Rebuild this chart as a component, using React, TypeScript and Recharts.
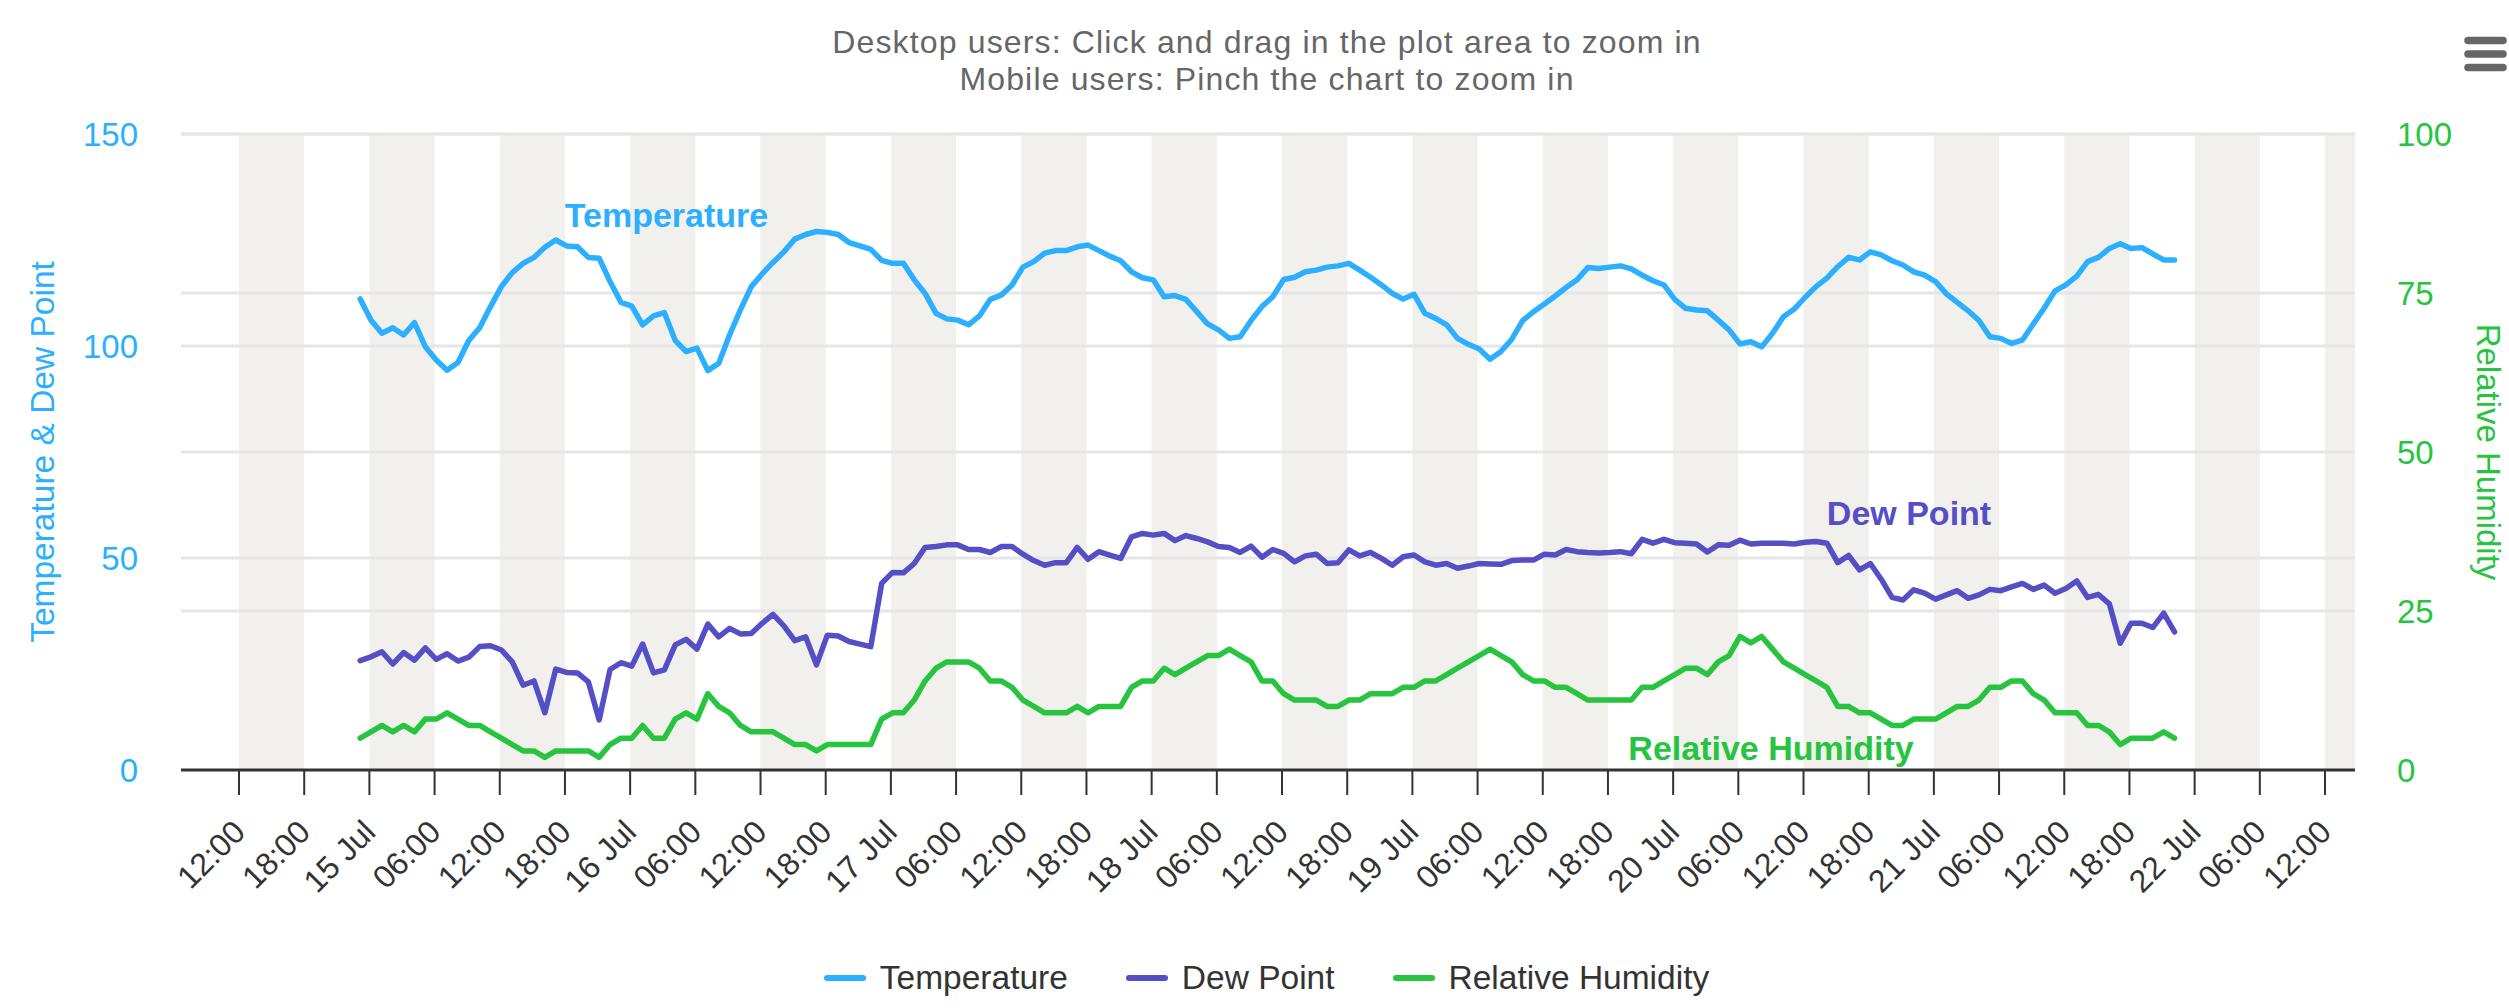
import { LineChart, Line, XAxis, YAxis, ReferenceArea, ReferenceLine } from 'recharts';

const FONT = '"Liberation Sans", Arial, Helvetica, sans-serif';

const TEMP_COLOR = '#2caffe';
const DEW_COLOR = '#544fc5';
const RH_COLOR = '#26c43f';
const BAND_COLOR = '#f2f0ec';
const GRID_COLOR = '#e6e6e6';

// hours counted from 14 Jul 00:00
const X_MIN = 6.66;
const X_MAX = 206.76;
const START_HOUR = 23.15;
const X_TICKS = [
  12, 18, 24, 30, 36, 42, 48, 54, 60, 66, 72, 78, 84, 90, 96, 102, 108,
  114, 120, 126, 132, 138, 144, 150, 156, 162, 168, 174, 180, 186, 192, 198, 204,
];
const LEFT_TICKS = [0, 50, 100, 150];
const RIGHT_TICKS = [0, 25, 50, 75, 100];

const TEMP = [
  111.1, 106.1, 103.0, 104.3, 102.6, 105.5, 99.8, 96.7, 94.3, 96.1,
  101.3, 104.3, 109.3, 114.0, 117.3, 119.5, 120.9, 123.3, 125.0, 123.6,
  123.4, 120.9, 120.7, 115.2, 110.3, 109.4, 105.0, 107.1, 107.9, 101.3,
  98.7, 99.5, 94.2, 95.9, 102.6, 108.5, 114.0, 117.0, 119.7, 122.2,
  125.2, 126.3, 127.0, 126.8, 126.3, 124.4, 123.6, 122.8, 120.2, 119.5,
  119.5, 115.6, 112.4, 107.7, 106.4, 106.1, 105.0, 107.1, 111.0, 112.0,
  114.4, 118.6, 119.9, 121.9, 122.5, 122.5, 123.4, 123.8, 122.5, 121.2,
  120.1, 117.5, 116.1, 115.6, 111.6, 111.9, 111.0, 108.1, 105.2, 103.8,
  101.8, 102.2, 106.0, 109.3, 111.6, 115.7, 116.2, 117.5, 117.9, 118.6,
  118.9, 119.5, 117.9, 116.2, 114.4, 112.4, 111.1, 112.2, 107.7, 106.5,
  105.0, 101.8, 100.4, 99.3, 96.9, 98.7, 101.6, 106.0, 108.1, 109.9,
  111.8, 113.8, 115.6, 118.5, 118.3, 118.6, 118.9, 118.2, 116.7, 115.4,
  114.4, 111.0, 108.9, 108.5, 108.3, 106.1, 103.8, 100.5, 101.0, 99.8,
  103.0, 106.9, 108.7, 111.5, 114.0, 116.0, 118.7, 120.9, 120.3, 122.2,
  121.5, 120.1, 119.1, 117.5, 116.7, 115.2, 112.3, 110.3, 108.3, 106.0,
  102.2, 101.8, 100.6, 101.4, 105.2, 108.9, 113.0, 114.4, 116.5, 119.9,
  120.9, 123.0, 124.1, 123.0, 123.2, 121.7, 120.3, 120.3,
];

const DEW = [
  25.8, 26.7, 27.9, 25.0, 27.7, 25.9, 28.8, 26.1, 27.4, 25.7,
  26.6, 29.1, 29.3, 28.3, 25.5, 20.0, 21.0, 13.5, 23.8, 23.0,
  22.9, 20.8, 11.8, 23.7, 25.3, 24.5, 29.7, 22.9, 23.6, 29.5,
  30.8, 28.5, 34.4, 31.4, 33.4, 32.1, 32.2, 34.6, 36.7, 34.0,
  30.5, 31.4, 24.8, 31.8, 31.6, 30.3, 29.7, 29.1, 44.0, 46.6,
  46.5, 48.7, 52.5, 52.7, 53.1, 53.1, 52.0, 52.0, 51.3, 52.7,
  52.7, 50.9, 49.4, 48.3, 48.9, 48.9, 52.5, 49.7, 51.5, 50.7,
  49.9, 55.0, 55.8, 55.4, 55.8, 54.1, 55.3, 54.6, 53.8, 52.7,
  52.5, 51.3, 52.8, 50.2, 52.0, 51.1, 49.1, 50.5, 50.9, 48.7,
  48.9, 51.9, 50.5, 51.3, 49.9, 48.3, 50.3, 50.7, 49.1, 48.3,
  48.7, 47.6, 48.1, 48.7, 48.6, 48.5, 49.4, 49.5, 49.5, 50.9,
  50.7, 52.0, 51.5, 51.3, 51.2, 51.3, 51.5, 51.0, 54.4, 53.5,
  54.4, 53.6, 53.5, 53.3, 51.4, 53.1, 53.0, 54.2, 53.3, 53.5,
  53.5, 53.5, 53.3, 53.7, 53.9, 53.5, 48.9, 50.6, 47.2, 48.7,
  45.0, 40.7, 40.1, 42.5, 41.7, 40.3, 41.3, 42.3, 40.5, 41.3,
  42.6, 42.3, 43.2, 44.0, 42.6, 43.6, 41.7, 42.8, 44.6, 40.7,
  41.4, 39.2, 29.9, 34.6, 34.6, 33.6, 37.0, 32.6,
];

const RH = [
  5, 6, 7, 6, 7, 6, 8, 8, 9, 8,
  7, 7, 6, 5, 4, 3, 3, 2, 3, 3,
  3, 3, 2, 4, 5, 5, 7, 5, 5, 8,
  9, 8, 12, 10, 9, 7, 6, 6, 6, 5,
  4, 4, 3, 4, 4, 4, 4, 4, 8, 9,
  9, 11, 14, 16, 17, 17, 17, 16, 14, 14,
  13, 11, 10, 9, 9, 9, 10, 9, 10, 10,
  10, 13, 14, 14, 16, 15, 16, 17, 18, 18,
  19, 18, 17, 14, 14, 12, 11, 11, 11, 10,
  10, 11, 11, 12, 12, 12, 13, 13, 14, 14,
  15, 16, 17, 18, 19, 18, 17, 15, 14, 14,
  13, 13, 12, 11, 11, 11, 11, 11, 13, 13,
  14, 15, 16, 16, 15, 17, 18, 21, 20, 21,
  19, 17, 16, 15, 14, 13, 10, 10, 9, 9,
  8, 7, 7, 8, 8, 8, 9, 10, 10, 11,
  13, 13, 14, 14, 12, 11, 9, 9, 9, 7,
  7, 6, 4, 5, 5, 5, 6, 5,
];

const SERIES = [
  { key: 'temp', name: 'Temperature', color: TEMP_COLOR, axis: 'left' },
  { key: 'dew', name: 'Dew Point', color: DEW_COLOR, axis: 'left' },
  { key: 'rh', name: 'Relative Humidity', color: RH_COLOR, axis: 'right' },
];

const rows = TEMP.map((t, i) => ({ h: START_HOUR + i, temp: t, dew: DEW[i], rh: RH[i] }));

const bands: [number, number][] = [];
for (let s = X_TICKS[0]; s < X_MAX; s += 12) bands.push([s, Math.min(s + 6, X_MAX)]);

function fmtHour(v: number) {
  const hh = v % 24;
  if (hh === 0) return `${14 + v / 24} Jul`;
  return `${hh < 10 ? '0' : ''}${hh}:00`;
}

function XTick(props: any) {
  const { x, y, payload } = props;
  const tx = x + 8;
  const ty = y + 39;
  return (
    <text
      x={tx}
      y={ty}
      transform={`rotate(-45 ${tx} ${ty})`}
      textAnchor="end"
      fill="#333333"
      fontSize={32}
      fontFamily={FONT}
    >
      {fmtHour(payload.value)}
    </text>
  );
}

export default function App() {
  return (
    <div style={{ position: 'absolute', left: 0, top: 0, width: 2509, height: 1008, background: '#fff', fontFamily: FONT }}>
      <LineChart width={2509} height={1008} data={rows} margin={{ top: 134, right: 0, bottom: 0, left: 0 }}>
        {bands.map(([a, b]) => (
          <ReferenceArea
            key={a}
            yAxisId="left"
            x1={a}
            x2={b}
            y1={0}
            y2={150}
            fill={BAND_COLOR}
            fillOpacity={1}
            stroke="none"
          />
        ))}
        {LEFT_TICKS.filter(v => v > 0).map(v => (
          <ReferenceLine key={'l' + v} yAxisId="left" y={v} stroke={GRID_COLOR} strokeWidth={3} />
        ))}
        {RIGHT_TICKS.filter(v => v > 0).map(v => (
          <ReferenceLine key={'r' + v} yAxisId="right" y={v} stroke={GRID_COLOR} strokeWidth={3} />
        ))}
        <XAxis
          dataKey="h"
          type="number"
          domain={[X_MIN, X_MAX]}
          allowDataOverflow
          ticks={X_TICKS}
          interval={0}
          height={238}
          tickSize={25}
          tickMargin={0}
          tickLine={{ stroke: '#333333', strokeWidth: 2 }}
          axisLine={{ stroke: '#333333', strokeWidth: 3 }}
          tick={<XTick />}
        />
        <YAxis
          yAxisId="left"
          domain={[0, 150]}
          ticks={LEFT_TICKS}
          allowDataOverflow
          width={181}
          axisLine={false}
          tickLine={false}
          tickSize={0}
          tickMargin={43}
          tick={{ fill: TEMP_COLOR, fontSize: 33, fontFamily: FONT }}
        />
        <YAxis
          yAxisId="right"
          orientation="right"
          domain={[0, 100]}
          ticks={RIGHT_TICKS}
          allowDataOverflow
          width={154}
          axisLine={false}
          tickLine={false}
          tickSize={0}
          tickMargin={42}
          tick={{ fill: RH_COLOR, fontSize: 33, fontFamily: FONT, textAnchor: 'start' }}
        />
        {SERIES.map(s => (
          <Line
            key={s.key}
            yAxisId={s.axis}
            type="linear"
            dataKey={s.key}
            name={s.name}
            stroke={s.color}
            strokeWidth={5.5}
            strokeLinejoin="round"
            strokeLinecap="round"
            dot={false}
            activeDot={false}
            isAnimationActive={false}
          />
        ))}
      </LineChart>

      <svg
        width={2509}
        height={1008}
        style={{ position: 'absolute', left: 0, top: 0, pointerEvents: 'none' }}
        fontFamily={FONT}
      >
        <text x={1267} y={53} textAnchor="middle" fill="#666666" fontSize={32} letterSpacing={1.15}>
          Desktop users: Click and drag in the plot area to zoom in
        </text>
        <text x={1267} y={90} textAnchor="middle" fill="#666666" fontSize={32} letterSpacing={1.15}>
          Mobile users: Pinch the chart to zoom in
        </text>
        <g stroke="#666666" strokeWidth={7.5} strokeLinecap="round">
          <line x1={2468} y1={40.5} x2={2503} y2={40.5} />
          <line x1={2468} y1={54} x2={2503} y2={54} />
          <line x1={2468} y1={67.5} x2={2503} y2={67.5} />
        </g>
        <text x={54} y={452} transform="rotate(-90 54 452)" textAnchor="middle" fill={TEMP_COLOR} fontSize={33.5}>
          Temperature &amp; Dew Point
        </text>
        <text x={2477} y={452} transform="rotate(90 2477 452)" textAnchor="middle" fill={RH_COLOR} fontSize={33}>
          Relative Humidity
        </text>
        <text x={666.5} y={226.5} textAnchor="middle" fill={TEMP_COLOR} fontSize={34} fontWeight="bold">
          Temperature
        </text>
        <text x={1909} y={525} textAnchor="middle" fill={DEW_COLOR} fontSize={34} fontWeight="bold">
          Dew Point
        </text>
        <text x={1771} y={760} textAnchor="middle" fill={RH_COLOR} fontSize={34} fontWeight="bold">
          Relative Humidity
        </text>
      </svg>

      <div
        style={{
          position: 'absolute',
          left: 0,
          top: 958,
          width: 2533,
          height: 40,
          display: 'flex',
          alignItems: 'center',
          justifyContent: 'center',
          gap: 58,
          fontSize: 33.5,
          color: '#333333',
          whiteSpace: 'nowrap',
        }}
      >
        {SERIES.map(s => (
          <div key={s.key} style={{ display: 'flex', alignItems: 'center' }}>
            <span style={{ display: 'inline-block', width: 42, height: 6, borderRadius: 3, background: s.color, marginRight: 14 }} />
            <span>{s.name}</span>
          </div>
        ))}
      </div>
    </div>
  );
}
